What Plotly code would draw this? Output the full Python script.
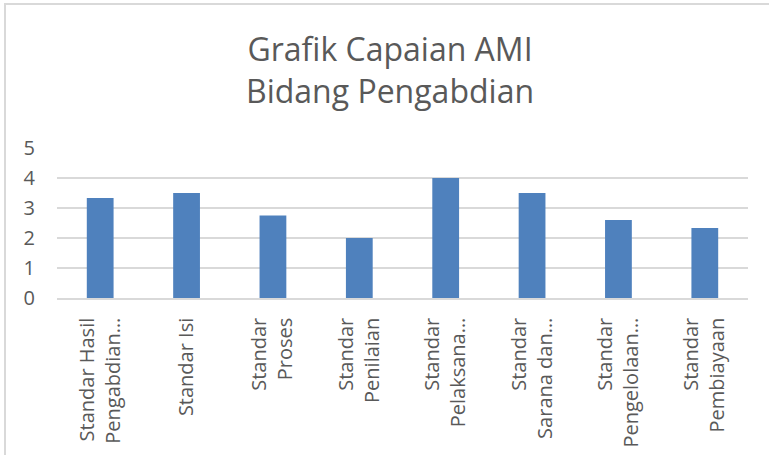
import plotly.graph_objects as go

categories = [
    "Standar Hasil<br>Pengabdian…",
    "Standar Isi",
    "Standar<br>Proses",
    "Standar<br>Penilaian",
    "Standar<br>Pelaksana…",
    "Standar<br>Sarana dan…",
    "Standar<br>Pengelolaan…",
    "Standar<br>Pembiayaan",
]
values = [3.33, 3.5, 2.75, 2.0, 4.0, 3.5, 2.6, 2.33]
title_text = "Grafik Capaian AMI<br>Bidang Pengabdian"

W, H = 769, 455
L, R, T, B = 57, 21, 148, 157

fig = go.Figure()
fig.add_trace(go.Bar(x=categories, y=values, marker=dict(color="#4f81bd", line=dict(width=0))))

pw = W - L - R
ph = H - T - B
def px_x(p):
    return (p - L) / pw
def px_y(p):
    return (H - B - p) / ph

fig.update_layout(
    width=W, height=H,
    margin=dict(l=L, r=R, t=T, b=B, autoexpand=False),
    paper_bgcolor="white", plot_bgcolor="white",
    font=dict(family="Open Sans, sans-serif", color="#595959"),
    title=dict(text=title_text, x=390 / W, xref="container", xanchor="center",
               y=1 - 61 / H, yref="container", yanchor="top",
               font=dict(size=32, color="#595959"), automargin=False),
    bargap=0.69,
    showlegend=False,
    xaxis=dict(tickangle=-90, tickfont=dict(size=20, color="#595959"),
               showline=True, linecolor="#d9d9d9", linewidth=1.5,
               ticks="", showgrid=False, automargin=False,
               ticklabelstandoff=10),
    yaxis=dict(range=[0, 5], dtick=1, tickfont=dict(size=20, color="#595959"),
               showgrid=True, gridcolor="#d9d9d9", gridwidth=1.5,
               zeroline=False, showline=False, ticks="",
               ticklabelstandoff=21, automargin=False),
    shapes=[dict(type="rect", xref="paper", yref="paper",
                 x0=px_x(5), x1=px_x(W + 10), y0=px_y(H + 10), y1=px_y(4),
                 line=dict(color="#d9d9d9", width=2), fillcolor="rgba(0,0,0,0)",
                 layer="below")],
)

fig.write_html("out.html",
               config={"displayModeBar": False},
               post_script="document.body.style.margin='0px';document.body.style.overflow='hidden';")
